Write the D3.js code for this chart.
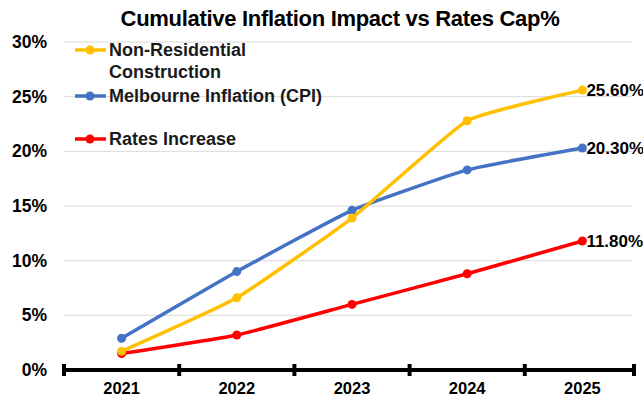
<!DOCTYPE html>
<html><head><meta charset="utf-8">
<script src="https://cdn.jsdelivr.net/npm/d3@7/dist/d3.min.js"></script>
<style>body{margin:0;background:#fff}svg{display:block}text{font-family:"Liberation Sans",Arial,sans-serif}</style>
</head><body><svg id="c" width="643" height="401"></svg>
<script>
const years = ["2021","2022","2023","2024","2025"];
const nonResidential = [1.7, 6.6, 13.9, 22.8, 25.6];
const cpi = [2.9, 9.0, 14.6, 18.3, 20.3];
const rates = [1.5, 3.2, 6.0, 8.8, 11.8];
const yTicks = [0,5,10,15,20,25,30];
const endLabels = ["25.60%","20.30%","11.80%"];
const seriesNames = ["Non-Residential|Construction","Melbourne Inflation (CPI)","Rates Increase"];

const series = [
  {name: seriesNames[0], values: nonResidential, color: "#FFC000", label: endLabels[0]},
  {name: seriesNames[1], values: cpi, color: "#4472C4", label: endLabels[1]},
  {name: seriesNames[2], values: rates, color: "#FF0000", label: endLabels[2]}
];

const svg = d3.select("#c");
const x = d3.scaleBand().domain(years).range([64, 640]);
const y = d3.scaleLinear().domain([0,30]).range([370, 42]);

svg.append("text").attr("x", 340).attr("y", 26).attr("text-anchor","middle")
  .attr("font-size", 22).attr("font-weight","bold").attr("letter-spacing", -0.3)
  .text("Cumulative Inflation Impact vs Rates Cap%");

// gridlines
svg.append("g").selectAll("line").data(yTicks.filter(d=>d>0)).join("line")
  .attr("x1", 64).attr("x2", 632).attr("y1", d=>y(d)).attr("y2", d=>y(d))
  .attr("stroke", "#d9d9d9").attr("stroke-width", 1);

// y labels
svg.append("g").selectAll("text").data(yTicks).join("text")
  .attr("x", 47).attr("y", d=>y(d)+6).attr("text-anchor","end")
  .attr("font-size", 17.5).attr("font-weight","bold").text(d=>d+"%");

// x axis
const xa = svg.append("g");
xa.append("line").attr("x1", 64).attr("x2", 636).attr("y1", y(0)).attr("y2", y(0))
  .attr("stroke","#000").attr("stroke-width",4);
const bounds = years.map(d=>x(d)).concat([x(years[4])+x.bandwidth()]);
xa.selectAll(".tk").data(bounds).join("line")
  .attr("x1", d=>Math.min(d,634)).attr("x2", d=>Math.min(d,634)).attr("y1", y(0)-6).attr("y2", y(0)+6)
  .attr("stroke","#000").attr("stroke-width",4);
xa.selectAll("text").data(years).join("text")
  .attr("x", d=>x(d)+x.bandwidth()/2).attr("y", 394).attr("text-anchor","middle")
  .attr("font-size", 16.5).attr("font-weight","bold").text(d=>d);

const line = d3.line().x((d,i)=>x(years[i])+x.bandwidth()/2).y(d=>y(d)).curve(d3.curveCardinal.tension(0.6));

[series[2], series[1], series[0]].forEach(s=>{
  const g = svg.append("g");
  g.append("path").datum(s.values).attr("d", line).attr("fill","none")
    .attr("stroke", s.color).attr("stroke-width", 3.5);
  g.selectAll("circle").data(s.values).join("circle")
    .attr("cx", (d,i)=>x(years[i])+x.bandwidth()/2).attr("cy", d=>y(d)).attr("r", 4.5)
    .attr("fill", s.color);
  g.append("text").attr("x", x(years[4])+x.bandwidth()/2+4).attr("y", y(s.values[4])+6)
    .attr("font-size", 17).attr("font-weight","bold").text(s.label);
});

// legend
const leg = [{y:50, s:series[0]},{y:96, s:series[1]},{y:139, s:series[2]}];
leg.forEach(l=>{
  svg.append("line").attr("x1",75).attr("x2",106).attr("y1",l.y).attr("y2",l.y)
    .attr("stroke", l.s.color).attr("stroke-width",3.5);
  svg.append("circle").attr("cx",90).attr("cy",l.y).attr("r",4.5).attr("fill",l.s.color);
  const parts = l.s.name.split("|");
  parts.forEach((p,i)=>{
    svg.append("text").attr("x",109).attr("y",l.y+6+i*22).attr("font-size",18)
      .attr("font-weight","bold").attr("fill","#1a1a1a").text(p);
  });
});
</script></body></html>
